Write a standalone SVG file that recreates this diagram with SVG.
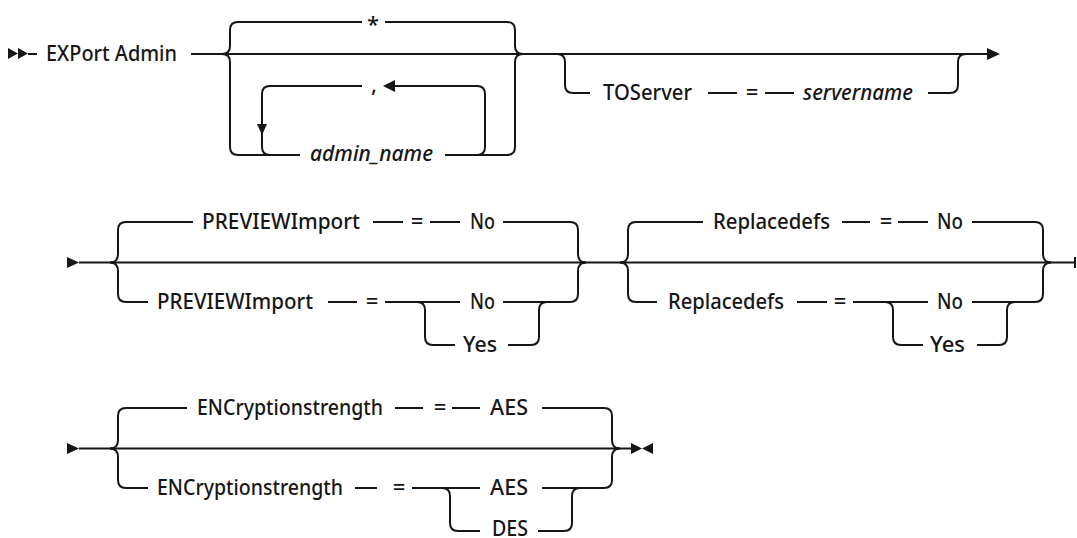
<svg xmlns="http://www.w3.org/2000/svg" width="1077" height="538" viewBox="0 0 1077 538">
<style>
.l{fill:none;stroke:#161616;stroke-width:2;}
.a{fill:#161616;stroke:none;}
text{font-family:"Noto Sans","Liberation Sans",sans-serif;font-size:22px;font-weight:500;fill:#161616;}
.i{font-style:italic;}
.m{text-anchor:middle;}
</style>
<rect width="1077" height="538" fill="#fff"/>
<g id="connectors">
<!-- Row 1 -->
<polygon class="a" points="8,48 18,53.5 8,59"/>
<polygon class="a" points="18,48 28,53.5 18,59"/>
<path class="l" d="M28,54 H37"/>
<path class="l" d="M191,54 H988"/>
<polygon class="a" points="987,48 1000,54 987,60"/>
<path class="l" d="M222,54 Q230,54 230,46 V30 Q230,22 238,22 H362 M385,22 H507 Q515,22 515,30 V46 Q515,54 523,54"/>
<path class="l" d="M222,54 Q230,54 230,62 V147 Q230,155 238,155 H300 M445,155 H507 Q515,155 515,147 V62 Q515,54 523,54"/>
<path class="l" d="M362,86 H270 Q262,86 262,94 V147 Q262,155 270,155"/>
<polygon class="a" points="257,124 267,124 262,135"/>
<path class="l" d="M395,86 H477 Q485,86 485,94 V147 Q485,155 477,155"/>
<polygon class="a" points="383,86 395,80 395,92"/>
<path class="l" d="M557,54 Q565,54 565,62 V85 Q565,93 573,93 H590 M708,93 H737 M765,93 H794 M928,93 H950 Q958,93 958,85 V62 Q958,54 966,54"/>
<!-- Row 2 -->
<polygon class="a" points="67,257 79,262.5 67,268"/>
<path class="l" d="M79,262.5 H1075"/>
<path class="l" d="M1075,257 V268"/>
<path class="l" d="M110,262.5 Q118,262.5 118,254 V230 Q118,222 126,222 H193 M373,222 H403 M430,222 H460 M503,222 H570 Q578,222 578,230 V254 Q578,262.5 586,262.5"/>
<path class="l" d="M110,262.5 Q118,262.5 118,271 V294 Q118,302 126,302 H148 M328,302 H357 M385,302 H460 M503,302 H570 Q578,302 578,294 V271 Q578,262.5 586,262.5"/>
<path class="l" d="M417,302 Q425,302 425,310 V337 Q425,345 433,345 H455 M508,345 H531 Q539,345 539,337 V310 Q539,302 547,302"/>
<path class="l" d="M620,262.5 Q628,262.5 628,254 V230 Q628,222 636,222 H703 M842,222 H870 M898,222 H928 M972,222 H1035 Q1043,222 1043,230 V254 Q1043,262.5 1051,262.5"/>
<path class="l" d="M620,262.5 Q628,262.5 628,271 V294 Q628,302 636,302 H657 M797,302 H827 M853,302 H928 M972,302 H1035 Q1043,302 1043,294 V271 Q1043,262.5 1051,262.5"/>
<path class="l" d="M885,302 Q893,302 893,310 V337 Q893,345 901,345 H923 M977,345 H999 Q1007,345 1007,337 V310 Q1007,302 1015,302"/>
<!-- Row 3 -->
<polygon class="a" points="67,443 79,448.5 67,454"/>
<path class="l" d="M79,448.5 H632"/>
<polygon class="a" points="631,443 642,448.5 631,454"/>
<polygon class="a" points="653,443 642,448.5 653,454"/>
<path class="l" d="M110,448.5 Q118,448.5 118,440 V416 Q118,408 126,408 H187 M395,408 H423 M452,408 H480 M542,408 H604 Q612,408 612,416 V440 Q612,448.5 620,448.5"/>
<path class="l" d="M110,448.5 Q118,448.5 118,457 V480 Q118,488 126,488 H148 M355,488 H377 M412,488 H480 M542,488 H604 Q612,488 612,480 V457 Q612,448.5 620,448.5"/>
<path class="l" d="M442,488 Q450,488 450,496 V523 Q450,531 458,531 H480 M538,531 H564 Q572,531 572,523 V496 Q572,488 580,488"/>
</g>
<g id="start"><text x="46" y="61" textLength="131" lengthAdjust="spacingAndGlyphs">EXPort Admin</text></g>
<g id="star"><text class="m" x="373" y="32">*</text></g>
<g id="comma"><text class="m" x="374" y="92">,</text></g>
<g id="admin_name"><text class="i" x="310" y="161" textLength="123" lengthAdjust="spacingAndGlyphs">admin_name</text></g>
<g id="toserver">
<text x="603" y="100" textLength="89" lengthAdjust="spacingAndGlyphs">TOServer</text>
<text class="m" x="752" y="100">=</text>
<text class="i" x="803" y="100" textLength="110" lengthAdjust="spacingAndGlyphs">servername</text>
</g>
<g id="preview-default">
<text x="202" y="229" textLength="158" lengthAdjust="spacingAndGlyphs">PREVIEWImport</text>
<text class="m" x="417" y="229">=</text>
<text x="470" y="229" textLength="25" lengthAdjust="spacingAndGlyphs">No</text>
</g>
<g id="preview">
<text x="157" y="309" textLength="156" lengthAdjust="spacingAndGlyphs">PREVIEWImport</text>
<text class="m" x="372" y="309">=</text>
<text x="470" y="309" textLength="25" lengthAdjust="spacingAndGlyphs">No</text>
<text x="463" y="352" textLength="34" lengthAdjust="spacingAndGlyphs">Yes</text>
</g>
<g id="replacedefs-default">
<text x="713" y="229" textLength="117" lengthAdjust="spacingAndGlyphs">Replacedefs</text>
<text class="m" x="886" y="229">=</text>
<text x="937" y="229" textLength="26" lengthAdjust="spacingAndGlyphs">No</text>
</g>
<g id="replacedefs">
<text x="668" y="309" textLength="116" lengthAdjust="spacingAndGlyphs">Replacedefs</text>
<text class="m" x="840" y="309">=</text>
<text x="937" y="309" textLength="26" lengthAdjust="spacingAndGlyphs">No</text>
<text x="930" y="352" textLength="35" lengthAdjust="spacingAndGlyphs">Yes</text>
</g>
<g id="encryption-default">
<text x="197" y="415" textLength="186" lengthAdjust="spacingAndGlyphs">ENCryptionstrength</text>
<text class="m" x="440" y="415">=</text>
<text x="490" y="415" textLength="38" lengthAdjust="spacingAndGlyphs">AES</text>
</g>
<g id="encryption">
<text x="157" y="495" textLength="186" lengthAdjust="spacingAndGlyphs">ENCryptionstrength</text>
<text class="m" x="399" y="495">=</text>
<text x="490" y="495" textLength="38" lengthAdjust="spacingAndGlyphs">AES</text>
<text x="492" y="536" textLength="36" lengthAdjust="spacingAndGlyphs">DES</text>
</g>
</svg>
